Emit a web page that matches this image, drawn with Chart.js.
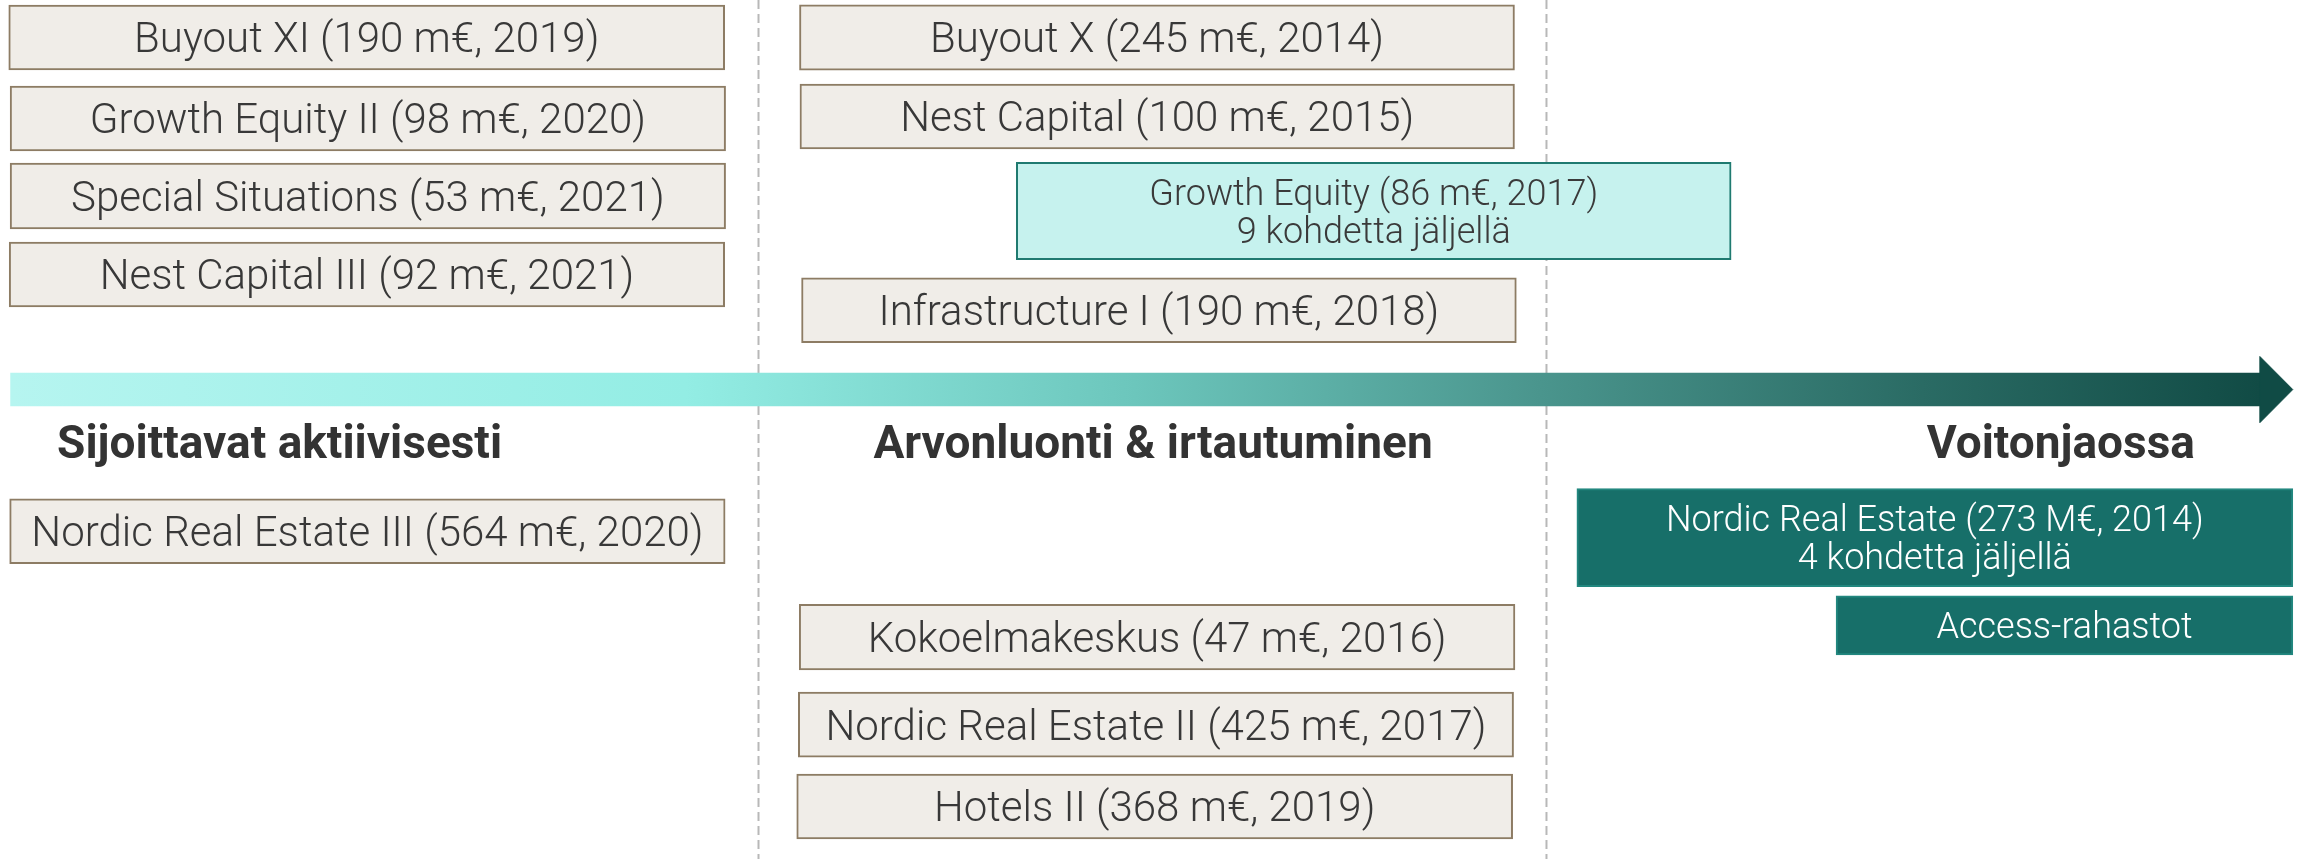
<!DOCTYPE html>
<html>
<head>
<meta charset="utf-8">
<script src="https://cdn.jsdelivr.net/npm/chart.js@4/dist/chart.umd.min.js"></script>
<style>
  html, body { margin: 0; padding: 0; background: #fff; }
  #kaavio { display: block; }
</style>
</head>
<body>
<canvas id="kaavio" width="2302" height="859"></canvas>
<script>
// rahastot (x = elinkaaren vaihe 0-100, y = rivi 0-100 ylhäältä alas)
const boxLabels = [
    "Buyout XI (190 m€, 2019)", "Growth Equity II (98 m€, 2020)", "Special Situations (53 m€, 2021)",
    "Nest Capital III (92 m€, 2021)", "Nordic Real Estate III (564 m€, 2020)",
    "Buyout X (245 m€, 2014)", "Nest Capital (100 m€, 2015)", "Growth Equity (86 m€, 2017)",
    "Infrastructure I (190 m€, 2018)", "Kokoelmakeskus (47 m€, 2016)",
    "Nordic Real Estate II (425 m€, 2017)", "Hotels II (368 m€, 2019)",
    "Nordic Real Estate (273 M€, 2014)", "Access-rahastot"
];
const boxNotes = ["", "", "", "", "", "", "", "9 kohdetta jäljellä", "", "", "", "", "4 kohdetta jäljellä", ""];
const boxStatus = ["invest", "invest", "invest", "invest", "invest",
    "value", "value", "partial", "value", "value", "value", "value", "exit", "exit"];
const boxFrom = [0.38, 0.44, 0.44, 0.40, 0.42, 34.73, 34.75, 44.15, 34.82, 34.72, 34.68, 34.61, 68.5, 79.76];
const boxTo = [31.48, 31.52, 31.52, 31.48, 31.5, 65.79, 65.79, 75.2, 65.87, 65.81, 65.75, 65.71, 99.6, 99.6];
const boxTop = [0.58, 10.01, 18.98, 28.17, 58.06, 0.55, 9.78, 18.89, 32.33, 70.35, 80.56, 90.1, 56.89, 69.35];
const boxBottom = [8.15, 17.58, 26.66, 35.74, 65.62, 8.18, 17.35, 30.23, 39.9, 78.0, 88.16, 97.67, 68.3, 76.25];

// nuoli ja vaiheet
const arrowFrom = 0.46, arrowTo = 98.17, arrowTip = 99.6;
const arrowTop = 43.42, arrowBottom = 47.26, headTop = 41.5, headBottom = 49.2;
const phaseLines = [32.95, 67.18];
const headings = ["Sijoittavat aktiivisesti", "Arvonluonti & irtautuminen", "Voitonjaossa"];
const headingX = [2.48, 50.09, 95.35];
const headingAlign = ["left", "center", "right"];
const headingY = 53.3;

const tyylit = {
    invest: { fill: "#f0ede8", border: "#8d7c64", text: "#383838", size: 42 },
    value: { fill: "#f0ede8", border: "#8d7c64", text: "#383838", size: 42 },
    partial: { fill: "#c6f2ee", border: "#1f7a70", text: "#3a3a3a", size: 36 },
    exit: { fill: "#176f69", border: "#22877f", text: "#ffffff", size: 36 }
};
const FONTTI = "Roboto, 'Liberation Sans', sans-serif";

function korkeus(c, top, bottom) {
    const y = c.chart.scales.y;
    return Math.abs(y.getPixelForValue(bottom) - y.getPixelForValue(top));
}

const datasets = [];

phaseLines.forEach(x => {
    datasets.push({
        type: "line",
        data: [{ x: x, y: 0 }, { x: x, y: 100 }],
        borderColor: "#b8b8b8",
        borderWidth: 2,
        borderDash: [9, 5],
        pointRadius: 0,
        fill: false,
        order: 20
    });
});

datasets.push({
    type: "bar",
    kind: "arrow",
    data: [{ x: [arrowFrom, arrowTo], y: (arrowTop + arrowBottom) / 2 }],
    backgroundColor: c => {
        const chart = c.chart;
        if (!chart.chartArea) return "#5aa9a0";
        const sx = chart.scales.x;
        const g = chart.ctx.createLinearGradient(sx.getPixelForValue(arrowFrom), 0, sx.getPixelForValue(arrowTo), 0);
        g.addColorStop(0, "#b6f5f0");
        g.addColorStop(0.3, "#93ede4");
        g.addColorStop(0.5, "#6cc6bc");
        g.addColorStop(0.68, "#4a958d");
        g.addColorStop(0.85, "#2a6b64");
        g.addColorStop(1, "#114b45");
        return g;
    },
    borderWidth: 0,
    barThickness: c => korkeus(c, arrowTop, arrowBottom),
    grouped: false,
    order: 10
});

datasets.push({
    type: "line",
    data: [{ x: arrowTo, y: headTop }, { x: arrowTip, y: (headTop + headBottom) / 2 }, { x: arrowTo, y: headBottom }, { x: arrowTo, y: headTop }],
    borderColor: "#104b45",
    backgroundColor: "#104b45",
    borderWidth: 1,
    pointRadius: 0,
    tension: 0,
    fill: "shape",
    order: 9
});

boxLabels.forEach((nimi, i) => {
    const t = tyylit[boxStatus[i]];
    datasets.push({
        type: "bar",
        kind: "box",
        label: nimi,
        note: boxNotes[i],
        status: boxStatus[i],
        data: [{ x: [boxFrom[i], boxTo[i]], y: (boxTop[i] + boxBottom[i]) / 2 }],
        backgroundColor: t.fill,
        borderColor: t.border,
        borderWidth: 2,
        borderSkipped: false,
        barThickness: c => korkeus(c, boxTop[i], boxBottom[i]),
        grouped: false,
        order: 0
    });
});

const tekstit = {
    id: "tekstit",
    afterDatasetsDraw(chart) {
        const ctx = chart.ctx;
        ctx.save();
        chart.data.datasets.forEach((ds, i) => {
            if (ds.kind !== "box") return;
            const el = chart.getDatasetMeta(i).data[0];
            const { x, y, base } = el.getProps(["x", "y", "base"], true);
            const t = tyylit[ds.status];
            const cx = (x + base) / 2;
            const cap = t.size * 0.711;
            ctx.fillStyle = t.text;
            ctx.textAlign = "center";
            ctx.textBaseline = "alphabetic";
            ctx.font = "300 " + t.size + "px " + FONTTI;
            if (ds.note) {
                ctx.fillText(ds.label, cx, y - 19 + cap / 2);
                ctx.fillText(ds.note, cx, y + 19 + cap / 2);
            } else {
                ctx.fillText(ds.label, cx, y + cap / 2);
            }
        });
        const sx = chart.scales.x, sy = chart.scales.y;
        ctx.fillStyle = "#333333";
        ctx.font = "bold 46px " + FONTTI;
        headings.forEach((h, i) => {
            ctx.textAlign = headingAlign[i];
            ctx.fillText(h, sx.getPixelForValue(headingX[i]), sy.getPixelForValue(headingY));
        });
        ctx.restore();
    }
};

new Chart(document.getElementById("kaavio"), {
    type: "bar",
    data: { datasets },
    options: {
        indexAxis: "y",
        responsive: false,
        animation: false,
        layout: { padding: 0 },
        plugins: { legend: { display: false }, tooltip: { enabled: false } },
        scales: {
            x: { type: "linear", min: 0, max: 100, display: false },
            y: { type: "linear", min: 0, max: 100, reverse: true, offset: false, display: false }
        }
    },
    plugins: [tekstit]
});
</script>
</body>
</html>
